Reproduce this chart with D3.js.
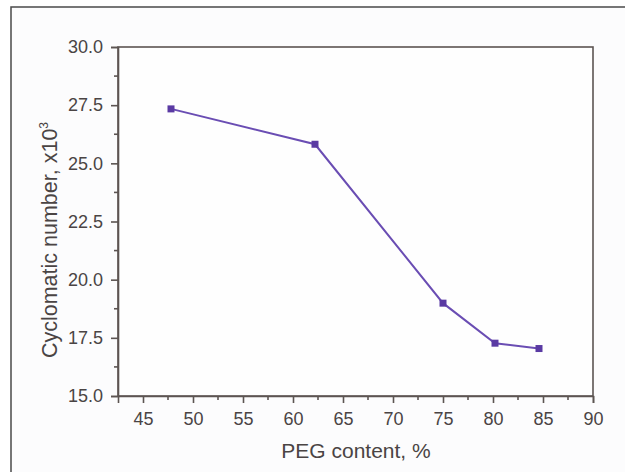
<!DOCTYPE html>
<html><head><meta charset="utf-8">
<script src="https://cdn.jsdelivr.net/npm/d3@7"></script>
<style>
html,body{margin:0;padding:0;background:#fff;}
svg{display:block;}
text{font-family:"Liberation Sans",Arial,sans-serif;fill:#4a4444;}
</style></head>
<body>
<svg id="c" width="625" height="472"></svg>
<script>
const pegContent = [47.8, 62.2, 75.0, 80.2, 84.6];
const cyclomatic = [27.34, 25.82, 18.99, 17.27, 17.04];
const xTicks = [45, 50, 55, 60, 65, 70, 75, 80, 85, 90];
const yTicks = [15.0, 17.5, 20.0, 22.5, 25.0, 27.5, 30.0];
const xLabel = "PEG content, %";
const yLabel = "Cyclomatic number, x10";

const svg = d3.select("#c");
const m = {l:118, r:593, t:47, b:396};
const x = d3.scaleLinear().domain([42.5, 90]).range([m.l, m.r]);
const y = d3.scaleLinear().domain([15, 30]).range([m.b, m.t]);
const axisCol = "#5c5452";

// outer frame
svg.append("rect").attr("x",0).attr("y",0).attr("width",625).attr("height",472).attr("fill","#fff");
svg.append("rect").attr("x",11).attr("y",7).attr("width",640).attr("height",500)
  .attr("fill","#fcfcfd").attr("stroke","#4a4a4a").attr("stroke-width",1.5);

// plot box
svg.append("rect").attr("x",m.l).attr("y",m.t).attr("width",m.r-m.l).attr("height",m.b-m.t)
  .attr("fill","#fefefe").attr("stroke",axisCol).attr("stroke-width",1.6);

// minor ticks
const xMinor = d3.range(42.5, 90.01, 5).filter(v => v > 42.6);
const yMinor = d3.range(16.25, 30, 2.5);

const xAxis = svg.append("g").attr("transform",`translate(0,${m.b})`)
  .call(d3.axisBottom(x).tickValues(xTicks).tickSize(7).tickPadding(9).tickFormat(d3.format("d")));
xAxis.append("g").selectAll("line").data(xMinor).join("line")
  .attr("x1",d=>x(d)).attr("x2",d=>x(d)).attr("y1",0).attr("y2",4);
const yAxis = svg.append("g").attr("transform",`translate(${m.l},0)`)
  .call(d3.axisLeft(y).tickValues(yTicks).tickSize(7).tickPadding(8).tickFormat(d3.format(".1f")));
yAxis.append("g").selectAll("line").data(yMinor).join("line")
  .attr("x1",0).attr("x2",-4).attr("y1",d=>y(d)).attr("y2",d=>y(d));

[xAxis, yAxis].forEach(a => {
  a.select(".domain").attr("stroke",axisCol).attr("stroke-width",1.6);
  a.selectAll("line").attr("stroke",axisCol).attr("stroke-width",1.6);
  a.selectAll("text").attr("font-size",18).attr("fill","#4a4444")
   .attr("font-family","Liberation Sans, Arial, sans-serif");
});

// line
const pts = pegContent.map((v,i)=>[v, cyclomatic[i]]);
svg.append("path").datum(pts)
  .attr("d", d3.line().x(d=>x(d[0])).y(d=>y(d[1])))
  .attr("fill","none").attr("stroke","#6a4db3").attr("stroke-width",2);
svg.append("g").selectAll("rect").data(pts).join("rect")
  .attr("x",d=>x(d[0])-3.5).attr("y",d=>y(d[1])-3.5)
  .attr("width",7).attr("height",7).attr("fill","#5a3aa3");

// axis titles
svg.append("text").attr("x",356).attr("y",458).attr("text-anchor","middle")
  .attr("font-size",21).text(xLabel);
const yt = svg.append("text").attr("transform","translate(57,240) rotate(-90)")
  .attr("text-anchor","middle").attr("font-size",21.5);
yt.append("tspan").text(yLabel);
yt.append("tspan").attr("font-size",12).attr("dy",-9).text("3");
</script>
</body></html>
